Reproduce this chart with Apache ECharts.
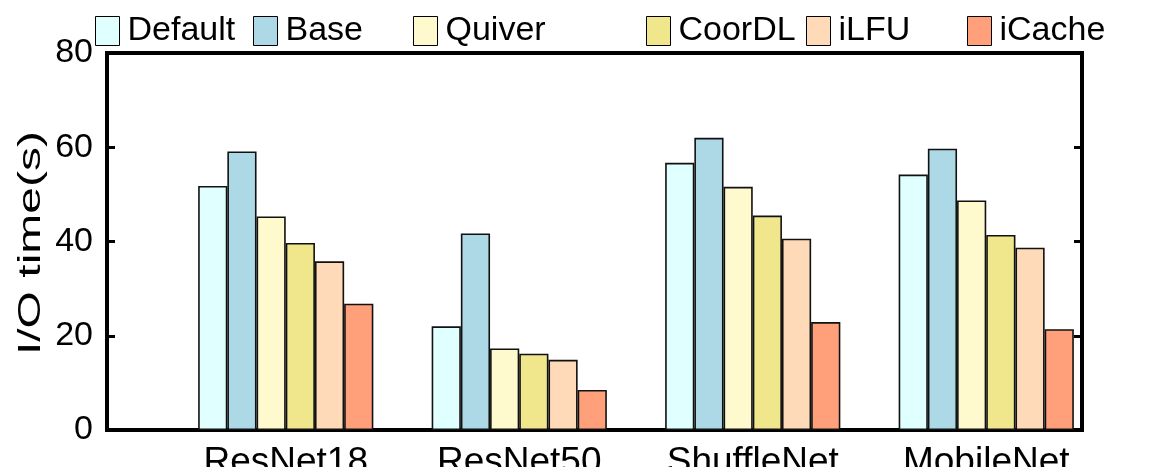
<!DOCTYPE html>
<html>
<head>
<meta charset="utf-8">
<script src="https://cdn.jsdelivr.net/npm/echarts@6/dist/echarts.min.js"></script>
<style>html,body{margin:0;padding:0;background:#fff;}#c{width:1173px;height:467px;}</style>
</head>
<body>
<div id="c"></div>
<script>
const categories = ['ResNet18', 'ResNet50', 'ShuffleNet', 'MobileNet'];
const seriesNames = ['Default', 'Base', 'Quiver', 'CoorDL', 'iLFU', 'iCache'];
const valDefault = [51.8, 22.0, 56.7, 54.2];
const valBase    = [59.1, 41.7, 62.0, 59.7];
const valQuiver  = [45.3, 17.3, 51.6, 48.7];
const valCoorDL  = [39.7, 16.2, 45.5, 41.4];
const valILFU    = [35.8, 14.9, 40.6, 38.7];
const valICache  = [26.8, 8.5, 22.9, 21.4];
const yTicks = [0, 20, 40, 60, 80];

const colors = ['#E0FFFF', '#ADD8E6', '#FFFACD', '#F0E68C', '#FFDAB9', '#FFA07A'];
const allValues = [valDefault, valBase, valQuiver, valCoorDL, valILFU, valICache];
const legendLefts = [95, 253, 413, 646, 806, 967];
const font = "'Liberation Sans', Arial, sans-serif";

const chart = echarts.init(document.getElementById('c'));
const series = seriesNames.map((n, i) => ({
  name: n,
  type: 'bar',
  xAxisIndex: 1,
  yAxisIndex: 2,
  data: allValues[i],
  barWidth: 29.2,
  barGap: '0%',
  itemStyle: { color: colors[i], borderColor: '#111', borderWidth: 1.6 },
  emphasis: { disabled: true }
}));

const legends = seriesNames.map((n, i) => ({
  data: [n],
  left: legendLefts[i],
  top: 14,
  padding: 0,
  itemWidth: 24,
  itemHeight: 29,
  icon: 'rect',
  selectedMode: false,
  itemStyle: { borderColor: '#000', borderWidth: 1 },
  textStyle: { fontSize: 34, color: '#000', fontFamily: font, padding: [0, 0, 0, 3] }
}));

chart.setOption({
  animation: false,
  backgroundColor: '#fff',
  legend: legends,
  grid: [
    { left: 107, right: 91, top: 53, bottom: 37, show: true, borderColor: '#000', borderWidth: 4, backgroundColor: 'transparent', outerBoundsMode: 'none', containLabel: false },
    { left: 169, right: 70, top: 53, bottom: 37, outerBoundsMode: 'none', containLabel: false }
  ],
  xAxis: [
    { gridIndex: 0, type: 'value', min: 0, max: 1, show: false },
    { gridIndex: 1, type: 'category', data: categories,
      axisLine: { show: false }, axisTick: { show: false },
      axisLabel: { interval: 0, fontSize: 37, color: '#000', fontFamily: font, margin: 14 } }
  ],
  yAxis: [
    { gridIndex: 0, type: 'value', min: yTicks[0], max: yTicks[yTicks.length - 1], interval: 20,
      axisLine: { show: false },
      axisTick: { show: true, inside: true, length: 8, lineStyle: { color: '#000', width: 3 } },
      axisLabel: { fontSize: 34, color: '#000', fontFamily: font, margin: 14 },
      splitLine: { show: false } },
    { gridIndex: 0, type: 'value', position: 'right', min: yTicks[0], max: yTicks[yTicks.length - 1], interval: 20,
      axisLine: { show: false },
      axisTick: { show: true, inside: true, length: 8, lineStyle: { color: '#000', width: 3 } },
      axisLabel: { show: false }, splitLine: { show: false } },
    { gridIndex: 1, type: 'value', min: 0, max: 80, show: false }
  ],
  graphic: [{
    type: 'text',
    x: 31, y: 243,
    rotation: Math.PI / 2,
    scaleX: 1.55,
    style: { text: 'I/O time(s)', fontSize: 31, fontFamily: font, fill: '#000', align: 'center', verticalAlign: 'middle' }
  }],
  series: series
});
</script>
</body>
</html>
